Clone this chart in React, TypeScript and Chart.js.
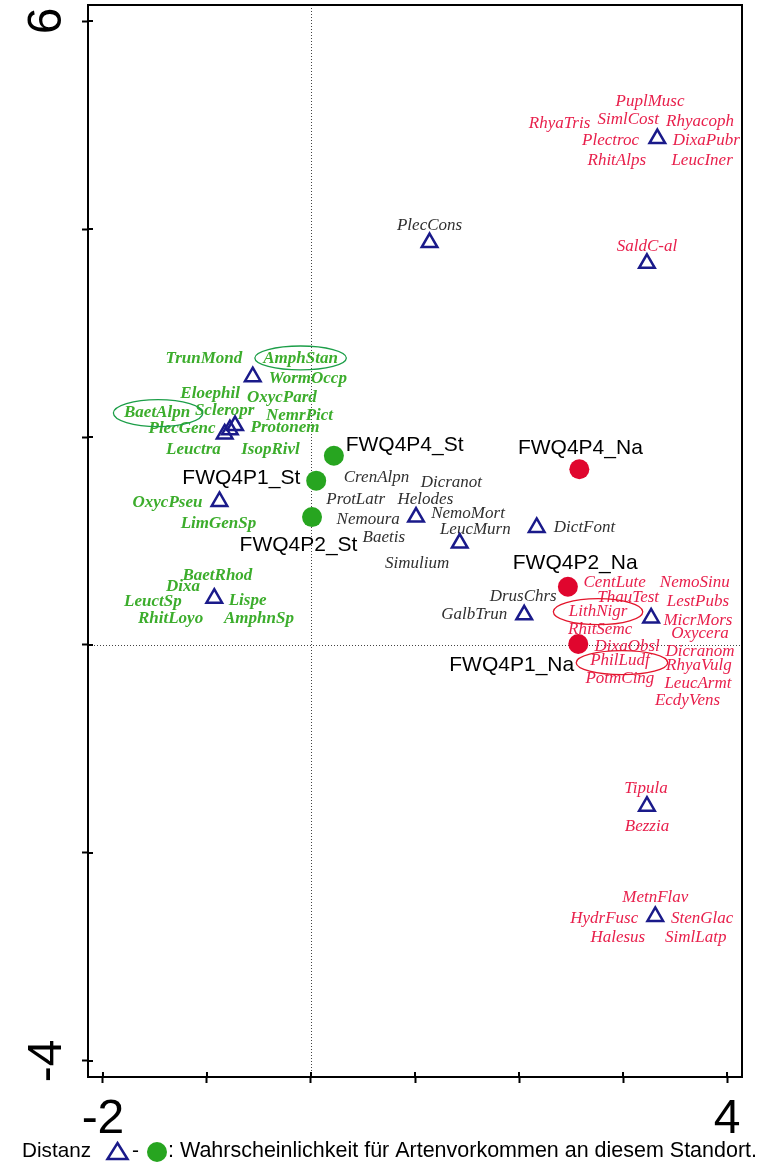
import React, { useEffect, useRef } from 'react';
import { Chart, registerables } from 'chart.js';

Chart.register(...registerables);

// ---- axes ----
const xTickValues = [-2, -1, 0, 1, 2, 3, 4];
const yTickValues = [-4, -2, 0, 2, 4, 6];
const xTickLabelValues = [-2, 4];
const yTickLabelValues = [-4, 6];
const xRange = [-2.144, 4.144];
const yRange = [-4.154, 6.154];

// ---- species centroids (triangles) ----
const speciesX = [3.33, 3.23, 1.14, -0.56, -0.73, -0.78, -0.83, -0.88, -0.93, 1.01, 1.43, 2.17, 2.05, 3.27, 3.23, 3.31];
const speciesY = [4.87, 3.67, 3.87, 2.58, 2.11, 2.07, 2.03, 1.38, 0.45, 1.23, 0.98, 1.13, 0.29, 0.26, -1.55, -2.61];

// ---- sites (circles) ----
const stSiteNames = ['FWQ4P4_St', 'FWQ4P1_St', 'FWQ4P2_St'];
const stSiteX = [0.22, 0.05, 0.01];
const stSiteY = [1.82, 1.58, 1.23];
const stLabelX = [0.9, -0.67, -0.12];
const stLabelY = [1.92, 1.6, 0.96];

const naSiteNames = ['FWQ4P4_Na', 'FWQ4P2_Na', 'FWQ4P1_Na'];
const naSiteX = [2.58, 2.47, 2.57];
const naSiteY = [1.69, 0.56, 0.01];
const naLabelX = [2.59, 2.54, 1.93];
const naLabelY = [1.89, 0.79, -0.19];

// ---- species labels [name, x, y] ----
const redLabels: [string, number, number][] = [
  ['PuplMusc', 3.26, 5.23], ['SimlCost', 3.05, 5.05], ['Rhyacoph', 3.74, 5.03], ['RhyaTris', 2.39, 5.01],
  ['Plectroc', 2.88, 4.85], ['DixaPubr', 3.8, 4.85], ['RhitAlps', 2.94, 4.66], ['LeucIner', 3.76, 4.66],
  ['SaldC-al', 3.23, 3.83],
  ['CentLute', 2.92, 0.6], ['NemoSinu', 3.69, 0.6], ['ThauTest', 3.05, 0.46], ['LestPubs', 3.72, 0.42],
  ['LithNigr', 2.76, 0.32], ['MicrMors', 3.72, 0.24], ['RhitSemc', 2.78, 0.15], ['Oxycera', 3.74, 0.11],
  ['DixaObsl', 3.04, -0.01], ['Dicranom', 3.74, -0.06], ['PhilLudf', 2.97, -0.15], ['RhyaVulg', 3.73, -0.2],
  ['PotmCing', 2.97, -0.32], ['LeucArmt', 3.72, -0.37], ['EcdyVens', 3.62, -0.53],
  ['Tipula', 3.22, -1.38], ['Bezzia', 3.23, -1.75],
  ['MetnFlav', 3.31, -2.43], ['HydrFusc', 2.82, -2.63], ['StenGlac', 3.76, -2.63],
  ['Halesus', 2.95, -2.81], ['SimlLatp', 3.7, -2.81],
];

const blackLabels: [string, number, number][] = [
  ['PlecCons', 1.14, 4.03], ['CrenAlpn', 0.63, 1.61], ['Dicranot', 1.35, 1.56], ['ProtLatr', 0.43, 1.4],
  ['Helodes', 1.1, 1.4], ['Nemoura', 0.55, 1.21], ['NemoMort', 1.51, 1.26], ['LeucMurn', 1.58, 1.11],
  ['Baetis', 0.7, 1.03], ['Simulium', 1.02, 0.78], ['DictFont', 2.63, 1.13], ['DrusChrs', 2.04, 0.47],
  ['GalbTrun', 1.57, 0.29],
];

const greenLabels: [string, number, number][] = [
  ['TrunMond', -1.03, 2.75], ['AmphStan', -0.1, 2.75], ['WormOccp', -0.03, 2.56], ['Eloephil', -0.97, 2.42],
  ['OxycPard', -0.28, 2.38], ['BaetAlpn', -1.48, 2.23], ['Scleropr', -0.83, 2.25], ['NemrPict', -0.11, 2.21],
  ['PlecGenc', -1.24, 2.08], ['Protonem', -0.25, 2.09], ['Leuctra', -1.13, 1.88], ['IsopRivl', -0.39, 1.88],
  ['OxycPseu', -1.38, 1.37], ['LimGenSp', -0.89, 1.17], ['BaetRhod', -0.9, 0.67], ['Dixa', -1.23, 0.56],
  ['LeuctSp', -1.52, 0.42], ['Lispe', -0.61, 0.43], ['RhitLoyo', -1.35, 0.25], ['AmphnSp', -0.5, 0.25],
];

// ---- highlight ellipses [cx, cy, rx, ry] in data units ----
const greenEllipses: [number, number, number, number][] = [
  [-0.1, 2.76, 0.44, 0.115],
  [-1.47, 2.23, 0.43, 0.13],
];
const redEllipses: [number, number, number, number][] = [
  [2.76, 0.32, 0.43, 0.125],
  [2.99, -0.17, 0.44, 0.115],
];

const legendLead = 'Distanz';
const legendTail = ': Wahrscheinlichkeit für Artenvorkommen an diesem Standort.';

// ---- styles ----
const NAVY = '#1a1a8a';
const GREEN_PT = '#27a520';
const RED_PT = '#e0062e';
const GREEN_TXT = '#3cad2c';
const RED_TXT = '#e8204c';
const BLACK_TXT = '#303030';
const SANS = '"Liberation Sans", Arial, sans-serif';
const SERIF = '"Liberation Serif", "Times New Roman", serif';

const overlayPlugin = {
  id: 'overlay',
  beforeDatasetsDraw(chart: any) {
    const { ctx, chartArea: a, scales } = chart;
    const xs = scales.x;
    const ys = scales.y;
    ctx.save();
    ctx.strokeStyle = '#444';
    ctx.lineWidth = 1;
    ctx.setLineDash([1, 2]);
    const x0 = Math.round(xs.getPixelForValue(0)) + 0.5;
    const y0 = Math.round(ys.getPixelForValue(0)) + 0.5;
    ctx.beginPath();
    ctx.moveTo(x0, a.top);
    ctx.lineTo(x0, a.bottom);
    ctx.moveTo(a.left, y0);
    ctx.lineTo(a.right, y0);
    ctx.stroke();
    ctx.setLineDash([]);

    ctx.textAlign = 'center';
    ctx.textBaseline = 'middle';
    const draw = (arr: [string, number, number][], font: string, color: string) => {
      ctx.font = font;
      ctx.fillStyle = color;
      arr.forEach(([t, vx, vy]) => {
        ctx.fillText(t, xs.getPixelForValue(vx), ys.getPixelForValue(vy));
      });
    };
    draw(redLabels, `italic 17px ${SERIF}`, RED_TXT);
    draw(blackLabels, `italic 17px ${SERIF}`, BLACK_TXT);
    draw(greenLabels, `italic bold 17px ${SERIF}`, GREEN_TXT);

    ctx.font = `21px ${SANS}`;
    ctx.fillStyle = '#000';
    stSiteNames.forEach((n, i) => ctx.fillText(n, xs.getPixelForValue(stLabelX[i]), ys.getPixelForValue(stLabelY[i])));
    naSiteNames.forEach((n, i) => ctx.fillText(n, xs.getPixelForValue(naLabelX[i]), ys.getPixelForValue(naLabelY[i])));
    ctx.restore();
  },
  afterDatasetsDraw(chart: any) {
    const { ctx, scales } = chart;
    const xs = scales.x;
    const ys = scales.y;
    ctx.save();
    ctx.lineWidth = 1.3;
    const drawE = (arr: [number, number, number, number][], color: string) => {
      ctx.strokeStyle = color;
      arr.forEach(([cx, cy, rx, ry]) => {
        const px = xs.getPixelForValue(cx);
        const py = ys.getPixelForValue(cy);
        const prx = Math.abs(xs.getPixelForValue(cx + rx) - px);
        const pry = Math.abs(ys.getPixelForValue(cy + ry) - py);
        ctx.beginPath();
        ctx.ellipse(px, py, prx, pry, 0, 0, Math.PI * 2);
        ctx.stroke();
      });
    };
    drawE(greenEllipses, '#1c9e48');
    drawE(redEllipses, '#e3162c');
    ctx.restore();
  },
  afterDraw(chart: any) {
    const { ctx, chartArea: a, scales } = chart;
    const xs = scales.x;
    const ys = scales.y;
    ctx.save();
    // frame
    ctx.strokeStyle = '#000';
    ctx.lineWidth = 2;
    ctx.strokeRect(a.left, a.top, a.right - a.left, a.bottom - a.top);
    // inward tick stubs
    ctx.beginPath();
    xTickValues.forEach((v) => {
      const px = xs.getPixelForValue(v);
      ctx.moveTo(px, a.bottom);
      ctx.lineTo(px, a.bottom - 5);
    });
    yTickValues.forEach((v) => {
      const py = ys.getPixelForValue(v);
      ctx.moveTo(a.left, py);
      ctx.lineTo(a.left + 5, py);
    });
    ctx.stroke();

    // caption legend
    const cy = 1151;
    ctx.fillStyle = '#000';
    ctx.font = `21px ${SANS}`;
    ctx.textBaseline = 'middle';
    ctx.textAlign = 'left';
    ctx.fillText(legendLead, 22, cy, 69);
    // triangle
    ctx.strokeStyle = NAVY;
    ctx.lineWidth = 2.5;
    ctx.beginPath();
    ctx.moveTo(117.5, 1143);
    ctx.lineTo(127.5, 1159);
    ctx.lineTo(107.5, 1159);
    ctx.closePath();
    ctx.stroke();
    ctx.fillText('-', 132, cy);
    ctx.fillStyle = GREEN_PT;
    ctx.beginPath();
    ctx.arc(157, 1152, 10, 0, Math.PI * 2);
    ctx.fill();
    ctx.fillStyle = '#000';
    ctx.font = `21.5px ${SANS}`;
    ctx.fillText(legendTail, 168, cy, 589);
    ctx.restore();
  },
};

const zeroPad = (scale: any) => {
  scale.paddingTop = 0;
  scale.paddingBottom = 0;
  scale.paddingLeft = 0;
  scale.paddingRight = 0;
};

export default function App() {
  const ref = useRef<HTMLCanvasElement | null>(null);
  useEffect(() => {
    const canvas = ref.current;
    if (!canvas) return;
    const tri = speciesX.map((x, i) => ({ x, y: speciesY[i] }));
    const st = stSiteX.map((x, i) => ({ x, y: stSiteY[i] }));
    const na = naSiteX.map((x, i) => ({ x, y: naSiteY[i] }));
    const chart = new Chart(canvas, {
      type: 'scatter',
      data: {
        datasets: [
          {
            data: tri,
            pointStyle: 'triangle',
            pointRadius: 9,
            borderWidth: 2.5,
            borderColor: NAVY,
            backgroundColor: 'rgba(0,0,0,0)',
          },
          { data: st, pointStyle: 'circle', pointRadius: 10, borderWidth: 0, backgroundColor: GREEN_PT },
          { data: na, pointStyle: 'circle', pointRadius: 10, borderWidth: 0, backgroundColor: RED_PT },
        ],
      },
      options: {
        responsive: false,
        animation: false,
        devicePixelRatio: 1,
        layout: { autoPadding: false, padding: { top: 5, right: 16, left: 0, bottom: 0 } },
        plugins: { legend: { display: false }, tooltip: { enabled: false } },
        scales: {
          x: {
            type: 'linear',
            position: 'bottom',
            min: xRange[0],
            max: xRange[1],
            afterBuildTicks: (s: any) => {
              s.ticks = xTickValues.map((v) => ({ value: v }));
            },
            afterFit: (s: any) => {
              s.height = 87;
              zeroPad(s);
            },
            grid: { drawOnChartArea: false, drawTicks: true, tickLength: 6, tickWidth: 2, tickColor: '#000', color: '#000' },
            border: { display: true, color: '#000', width: 2 },
            ticks: {
              autoSkip: false,
              maxRotation: 0,
              minRotation: 0,
              padding: 8,
              color: '#000',
              font: { family: SANS, size: 48, lineHeight: 1.2 },
              callback: (v: any) => (xTickLabelValues.includes(Number(v)) ? String(v) : ''),
            },
          },
          y: {
            type: 'linear',
            position: 'left',
            min: yRange[0],
            max: yRange[1],
            afterBuildTicks: (s: any) => {
              s.ticks = yTickValues.map((v) => ({ value: v }));
            },
            afterFit: (s: any) => {
              s.width = 88;
              zeroPad(s);
            },
            grid: { drawOnChartArea: false, drawTicks: true, tickLength: 6, tickWidth: 2, tickColor: '#000', color: '#000' },
            border: { display: true, color: '#000', width: 2 },
            ticks: {
              autoSkip: false,
              minRotation: 90,
              maxRotation: 90,
              crossAlign: 'center',
              padding: 13,
              color: '#000',
              font: { family: SANS, size: 48, lineHeight: 1.2 },
              callback: (v: any) => (yTickLabelValues.includes(Number(v)) ? String(v) : ''),
            },
          },
        },
      },
      plugins: [overlayPlugin],
    } as any);
    return () => chart.destroy();
  }, []);
  return (
    <div style={{ position: 'absolute', left: 0, top: 0, width: 758, height: 1164, background: '#fff' }}>
      <canvas ref={ref} width={758} height={1164} style={{ display: 'block', width: 758, height: 1164 }} />
    </div>
  );
}
